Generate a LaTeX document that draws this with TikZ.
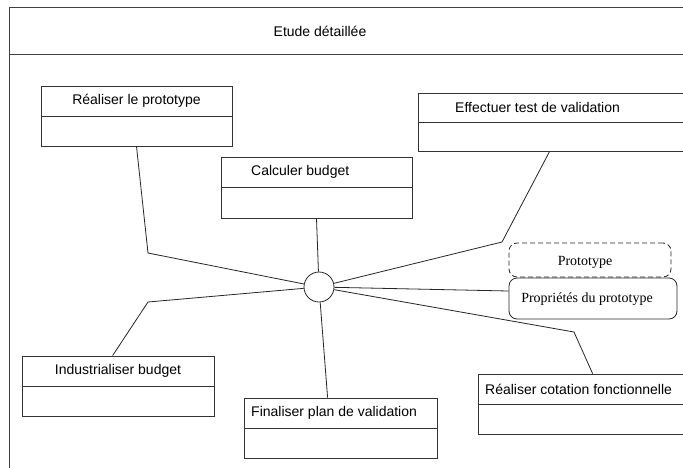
\documentclass[tikz,border=0pt]{standalone}
\usepackage{fontspec}
\setmainfont{Liberation Sans}
\newfontfamily\timesfont{Liberation Serif}
\begin{document}
\begin{tikzpicture}[x=1pt,y=-1pt,
  frame/.style={draw=black!75,line width=1pt},
  ubox/.style={draw=black!80,line width=0.8pt,rectangle,inner sep=0pt},
  utext/.style={inner sep=0pt,font=\fontsize{14}{16}\selectfont},
  conn/.style={draw=black!85,line width=0.8pt},
  proto/.style={draw=black!85,line width=0.8pt,rounded corners=8pt,rectangle,inner sep=0pt},
  ptext/.style={inner sep=0pt,font=\timesfont\fontsize{14}{16}\selectfont}]
\clip (0,0) rectangle (683,467);
\fill[white] (0,0) rectangle (683,467);
% frame
\draw[frame] (9,7) -- (700,7);
\draw[frame] (9,7) -- (9,480);
\draw[frame] (9,54) -- (700,54);
\node[utext] (title) at (320,31.5) {Etude détaillée};
% boxes
\node[ubox,minimum width=191pt,minimum height=60pt] (rp) at (136.5,116) {};
\node[ubox,minimum width=300pt,minimum height=58pt] (et) at (568,122) {};
\node[ubox,minimum width=191pt,minimum height=61pt] (cb) at (316.5,187.5) {};
\node[ubox,minimum width=192pt,minimum height=60pt] (ib) at (118,386) {};
\node[ubox,minimum width=193pt,minimum height=60pt] (fp) at (340.5,428) {};
\node[ubox,minimum width=300pt,minimum height=60pt] (rc) at (628,404) {};
\foreach \n in {rp,et,cb,ib,fp,rc} {\draw[ubox] (\n.west) -- (\n.east);}
% titles
\node[utext] (trp) at (136.5,101) {Réaliser le prototype};
\node[utext,anchor=west] (tet) at (455,107.5) {Effectuer test de validation};
\node[utext,anchor=west] (tcb) at (251,172) {Calculer budget};
\node[utext] (tib) at (118,371) {Industrialiser budget};
\node[utext,anchor=west] (tfp) at (251,413) {Finaliser plan de validation};
\node[utext,anchor=west] (trc) at (485,389) {Réaliser cotation fonctionnelle};
% prototype boxes
\node[proto,dash pattern=on 5pt off 3pt,minimum width=162pt,minimum height=34pt] (pr) at (590,260) {};
\node[ptext] (tpr) at (585,262) {Prototype};
\node[proto,minimum width=168pt,minimum height=41pt] (pp) at (593,298.5) {};
\node[ptext] (tpp) at (587,299) {Propriétés du prototype};
% hub
\node[draw=black!85,line width=0.8pt,circle,minimum size=30pt,inner sep=0pt,fill=white] (c) at (319,287) {};
% connectors
\draw[conn] (c) -- (148,253) -- (rp.south);
\draw[conn] (cb.south) -- (c);
\draw[conn] (c) -- (502,242) -- ([xshift=132pt]et.south west);
\draw[conn] (c) -- ([yshift=7.5pt]pp.west);
\draw[conn] (c) -- (574,332) -- ([xshift=115pt]rc.north west);
\draw[conn] (c) -- ([xshift=84pt]fp.north west);
\draw[conn] (c) -- (148,302) -- ([xshift=91pt]ib.north west);
\end{tikzpicture}
\end{document}
